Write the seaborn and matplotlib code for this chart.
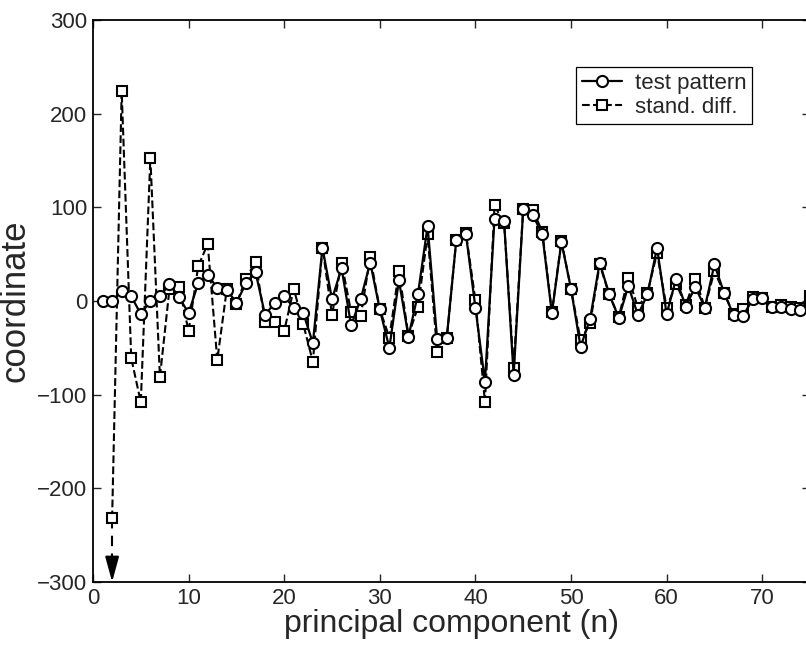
import numpy as np
import pandas as pd
import seaborn as sns
import matplotlib
matplotlib.use("Agg")
import matplotlib.pyplot as plt

# values
n_test = list(range(1, 76))
test_pattern = [0, 0, 11, 5, -14, 0, 5, 18, 4, -13,
                19, 28, 14, 12, -2, 19, 31, -15, -2, 5,
                -7, -13, -45, 57, 2, 35, -26, 2, 41, -9,
                -50, 22, -38, 8, 80, -41, -40, 65, 72, -7,
                -86, 88, 85, -79, 98, 92, 71, -13, 63, 13,
                -49, -19, 41, 7, -18, 16, -15, 7, 57, -14,
                24, -6, 15, -7, 39, 9, -15, -16, 2, 3,
                -6, -6, -9, -10, 4]

n_diff = list(range(2, 76))
stand_diff = [-232, 224, -61, -108, 153, -81, 13, 15, -32,
              37, 61, -63, 13, -3, 24, 42, -22, -22, -32,
              13, -25, -65, 57, -15, 41, -12, -16, 47, -9,
              -39, 32, -37, -6, 71, -54, -40, 65, 73, 1,
              -108, 102, 83, -71, 98, 97, 74, -12, 64, 13,
              -42, -24, 39, 7, -17, 25, -7, 9, 51, -7,
              18, -4, 24, -7, 32, 9, -14, -9, 4, 3,
              -6, -4, -6, -8, 5]

x_ticks = [0, 10, 20, 30, 40, 50, 60, 70]
y_ticks = [-300, -200, -100, 0, 100, 200, 300]

sns.set_style("ticks")
plt.rcParams['font.family'] = ['Liberation Sans', 'DejaVu Sans']
plt.rcParams['xtick.direction'] = 'in'
plt.rcParams['ytick.direction'] = 'in'

df_test = pd.DataFrame({'n': n_test, 'coord': test_pattern})
df_diff = pd.DataFrame({'n': n_diff, 'coord': stand_diff})

fig = plt.figure(figsize=(8.06, 6.46), dpi=100)
ax = fig.add_axes([93 / 806, 64 / 646, 717 / 806, 562 / 646])

sns.lineplot(data=df_test, x='n', y='coord', ax=ax, color='black',
             linewidth=1.6, marker='o', markersize=8, markerfacecolor='white',
             markeredgecolor='black', markeredgewidth=1.5,
             label='test pattern', zorder=3)
sns.lineplot(data=df_diff, x='n', y='coord', ax=ax, color='black',
             linewidth=1.5, linestyle='--', dashes=(5, 3.5), marker='s',
             markersize=6.5, markerfacecolor='white', markeredgecolor='black',
             markeredgewidth=1.5, label='stand. diff.', zorder=2)

# off-scale value indicated with an arrow
ax.plot([n_diff[0], n_diff[0]], [stand_diff[0], y_ticks[0] + 15], color='black',
        linewidth=1.5, linestyle='--', dashes=(5, 3.5), zorder=1)
ax.annotate('', xy=(n_diff[0], y_ticks[0]), xytext=(n_diff[0], y_ticks[0] + 20),
            arrowprops=dict(arrowstyle='-|>,head_length=1.1,head_width=0.3',
                            color='black', lw=1.5, mutation_scale=14,
                            shrinkA=0, shrinkB=0))

ax.set_xlim(0, 75)
ax.set_ylim(-300, 300)
ax.set_xticks(x_ticks)
ax.set_yticks(y_ticks)
ax.set_yticklabels(['\u2212300', '\u2212200', '\u2212100', '0', '100', '200', '300'])
ax.tick_params(axis='both', labelsize=16, length=6, width=1,
               top=True, right=True, pad=4)
for s in ax.spines.values():
    s.set_linewidth(1.3)
    s.set_color('black')

ax.set_xlabel('principal component (n)', fontsize=23, labelpad=0)
ax.set_ylabel('coordinate', fontsize=25, labelpad=4)

leg = ax.legend(loc='upper right', bbox_to_anchor=(0.935, 0.936), fontsize=16,
                handlelength=1.8, handletextpad=0.6, borderpad=0.25,
                labelspacing=0.15, fancybox=False, framealpha=1,
                edgecolor='black')
leg.get_frame().set_linewidth(0.9)

fig.savefig('out.png', dpi=100)
